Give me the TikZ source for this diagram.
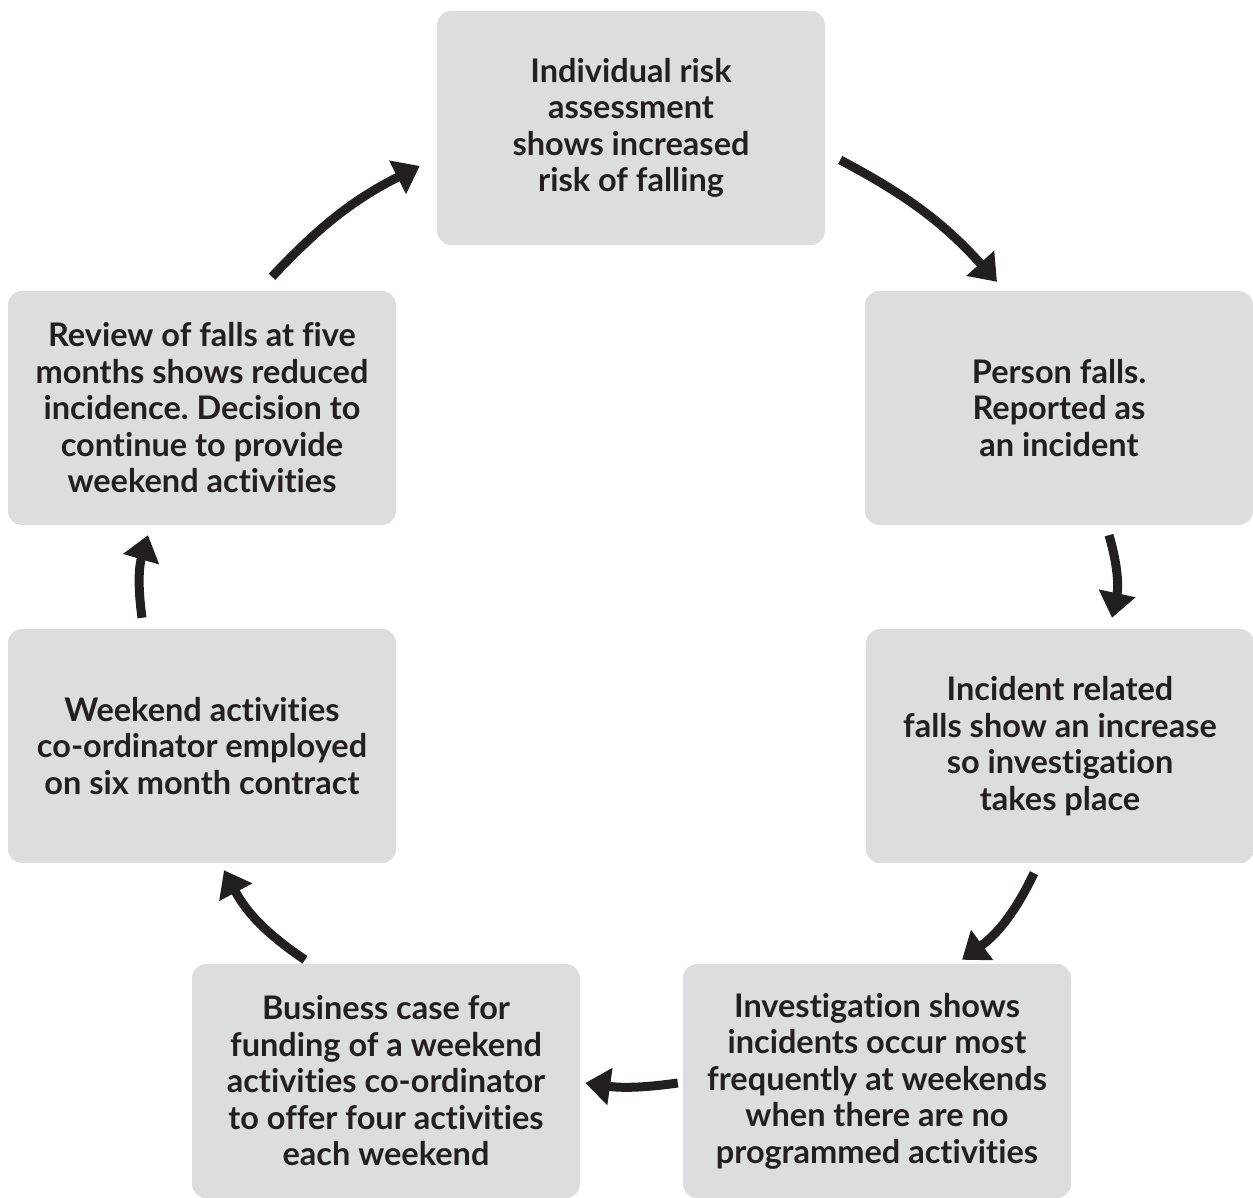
\documentclass[tikz,border=0pt]{standalone}
\usepackage{fontspec}
\setmainfont{Lato}[Ligatures=NoCommon]
\frenchspacing
\usepackage{tikz}
\usetikzlibrary
  {
    arrows.meta,              % triangle arrow heads
    positioning,              % place nodes relative to other nodes
    calc,
  }
\definecolor{boxgray}{HTML}{DCDDDE}
\definecolor{inkdark}{HTML}{231F20}

\begin{document}
\begin{tikzpicture}
    [
      x=1pt,
      y=1pt,
      stage/.style=
        {
          rectangle,
          rounded corners=14pt,
          fill=boxgray,
          minimum width=388pt,
          minimum height=234pt,
          inner sep=0pt,
          align=center,
          text=inkdark,
          font=\fontsize{32.5}{36.5}\selectfont\bfseries,
        },
      flow/.style=
        {
          draw=inkdark,
          line width=9pt,
          -{Triangle[length=25pt,width=36pt]},
        },
    ]
    \useasboundingbox (0,0) rectangle (1253,1197);
    \node[stage] (assess)   at ( 631,1069) {Individual risk\\assessment\\shows increased\\risk of falling};
    \node[stage] (fall)     at (1059, 789) {Person falls.\\Reported as\\an incident};
    \node[stage] (increase) at (1060, 451) {Incident related\\falls show an increase\\so investigation\\takes place};
    \node[stage] (weekends) at ( 877, 116) {Investigation shows\\incidents occur most\\frequently at weekends\\when there are no\\programmed activities};
    \node[stage] (business) at ( 386, 116) {Business case for\\funding of a weekend\\activities co-ordinator\\to offer four activities\\each weekend};
    \node[stage] (employed) at ( 202, 451) {Weekend activities\\co-ordinator employed\\on six month contract};
    \node[stage] (review)   at ( 202, 789) {Review of falls at five\\months shows reduced\\incidence. Decision to\\continue to provide\\weekend activities};

    % the cycle, clockwise
    \draw[flow] ([shift={(15,-32)}]assess.east)    to[bend left=10] ([shift={(-62,9)}]fall.north);
    \draw[flow] ([shift={(50,-10)}]fall.south)     to[bend left=14] ([shift={(52,11)}]increase.north);
    \draw[flow] ([shift={(-26,-10)}]increase.south) to[bend left=14] ([shift={(85,4)}]weekends.north);
    \draw[flow] ([shift={(-5,-2)}]weekends.west)   to[bend left=8]  ([shift={(5,-2)}]business.east);
    \draw[flow] ([shift={(-81,4)}]business.north)  to[bend left=14] ([shift={(22,-7)}]employed.south);
    \draw[flow] ([shift={(-60,11)}]employed.north) to[bend left=12] ([shift={(-54,-10)}]review.south);
    \draw[flow] ([shift={(70,14)}]review.north)    to[bend left=10] ([shift={(-17,-38)}]assess.west);
  \end{tikzpicture}
\end{document}
